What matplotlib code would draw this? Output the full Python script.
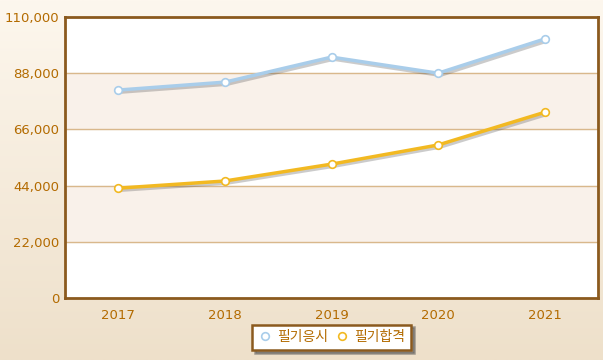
import matplotlib
matplotlib.use("Agg")
import matplotlib.pyplot as plt
import matplotlib.patheffects as pe
import numpy as np

plt.rcParams['font.family'] = ['DejaVu Sans', 'Noto Sans CJK KR']

years = ["2017", "2018", "2019", "2020", "2021"]
applied = [81400, 84500, 94300, 88000, 101400]   # 필기응시
passed = [43000, 45800, 52400, 59900, 72700]     # 필기합격
yticks = [0, 22000, 44000, 66000, 88000, 110000]

label_col = "#b36b00"
border_col = "#8b5a1e"

fig = plt.figure(figsize=(6.03, 3.6), dpi=100)

# background gradient
bg = fig.add_axes([0, 0, 1, 1], zorder=-10)
grad = np.linspace(0, 1, 256).reshape(-1, 1)
top = np.array([0xfd, 0xf7, 0xee]) / 255
bot = np.array([0xee, 0xe0, 0xca]) / 255
img = top + (bot - top) * grad[:, :, None]
bg.imshow(img, aspect="auto", extent=[0, 1, 0, 1])
bg.axis("off")

ax = fig.add_axes([65 / 603, 1 - 298 / 360, 533 / 603, 281 / 360])
ax.set_facecolor("white")

# alternating bands
for i in range(len(yticks) - 1):
    if i % 2 == 1:
        ax.axhspan(yticks[i], yticks[i + 1], color="#f9f1ea", zorder=0)
for t in yticks[1:-1]:
    ax.axhline(t, color="#d9b88c", lw=1, zorder=1)

x = np.arange(len(years))
shadow = [pe.SimpleLineShadow(offset=(1.5, -1.5), shadow_color="#555555", alpha=0.3), pe.Normal()]
for vals, col, name in [(applied, "#a9cdea", "필기응시"), (passed, "#f2b922", "필기합격")]:
    ax.plot(x, vals, color=col, lw=2.5, zorder=3, path_effects=shadow)
    ax.plot(x, vals, ls="none", marker="o", ms=5.5, mfc="white", mec=col,
            mew=1.2, zorder=4, label=name)

ax.set_xlim(-0.5, len(years) - 0.5)
ax.set_ylim(0, 110000)
ax.set_xticks(x)
ax.set_xticklabels(years)
ax.set_yticks(yticks)
ax.set_yticklabels([f"{v:,}" for v in yticks])
ax.tick_params(colors=label_col, labelsize=9.5, length=0, pad=4)
ax.tick_params(axis="x", pad=8)
for s in ax.spines.values():
    s.set_color(border_col)
    s.set_linewidth(2)

leg = ax.legend(loc="upper center", bbox_to_anchor=(0.5, -0.08), ncol=2,
                frameon=True, fancybox=False, shadow=True,
                handlelength=1.0, columnspacing=0.5, handletextpad=0.4,
                borderpad=0.4, borderaxespad=0.3,
                prop={"family": ["Noto Sans CJK KR", "DejaVu Sans"], "size": 10})
leg.get_frame().set_edgecolor(border_col)
leg.get_frame().set_linewidth(1.8)
for t in leg.get_texts():
    t.set_color(label_col)

fig.savefig("out.png", dpi=100)
